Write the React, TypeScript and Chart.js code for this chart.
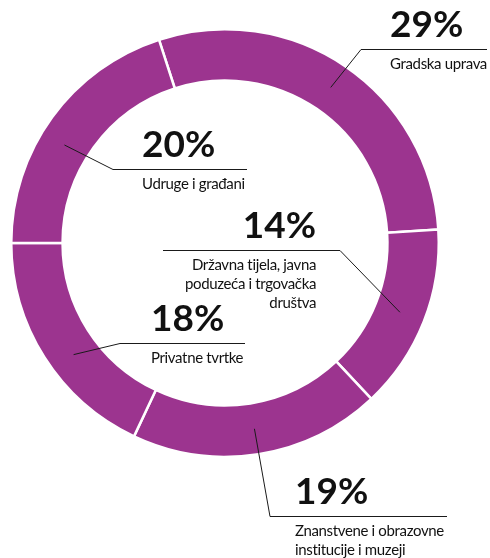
import React, { useEffect, useRef } from "react";
import { Chart, registerables } from "chart.js";

Chart.register(...registerables);

const categories = [
  "Gradska uprava",
  "Državna tijela, javna poduzeća i trgovačka društva",
  "Znanstvene i obrazovne institucije i muzeji",
  "Privatne tvrtke",
  "Udruge i građani",
];
const values = [29, 14, 19, 18, 20];
const labelLines = [
  ["Gradska uprava"],
  ["Državna tijela, javna", "poduzeća i trgovačka", "društva"],
  ["Znanstvene i obrazovne", "institucije i muzeji"],
  ["Privatne tvrtke"],
  ["Udruge i građani"],
];

// annotation placement (canvas pixels): elbow of leader, end of horizontal rule, text anchor
const labelLayout = [
  { elbowX: 361, elbowY: 49.5, endX: 487, textX: 390, align: "left", shift: 0 },
  { elbowX: 340, elbowY: 250.5, endX: 163, textX: 316, align: "right", shift: 0 },
  { elbowX: 270, elbowY: 516.5, endX: 447, textX: 295, align: "left", shift: 0 },
  { elbowX: 120, elbowY: 343.5, endX: 245, textX: 151, align: "left", shift: -4 },
  { elbowX: 113, elbowY: 169.5, endX: 247, textX: 142, align: "left", shift: -4.6 },
];

const PURPLE = "#9c348f";
const FONT = "Lato, 'Open Sans', sans-serif";

const calloutPlugin = {
  id: "callouts",
  afterDraw(chart: any) {
    const ctx = chart.ctx;
    const meta = chart.getDatasetMeta(0);
    ctx.save();
    meta.data.forEach((arc: any, i: number) => {
      const p = arc.getProps(["x", "y", "startAngle", "endAngle", "innerRadius", "outerRadius"], true);
      const L = labelLayout[i];
      const mid = (p.startAngle + p.endAngle) / 2 + (L.shift * Math.PI) / 180;
      const r = (p.innerRadius + p.outerRadius) / 2;
      const sx = p.x + Math.cos(mid) * r;
      const sy = p.y + Math.sin(mid) * r;
      ctx.beginPath();
      ctx.strokeStyle = "#1a1a1a";
      ctx.lineWidth = 1;
      ctx.moveTo(sx, sy);
      ctx.lineTo(L.elbowX, L.elbowY);
      ctx.lineTo(L.endX, L.elbowY);
      ctx.stroke();

      ctx.fillStyle = "#111";
      ctx.textAlign = L.align;
      ctx.textBaseline = "alphabetic";
      ctx.letterSpacing = "0px";
      ctx.font = `bold 37px ${FONT}`;
      ctx.fillText(`${values[i]}%`, L.textX, L.elbowY - 12.5);
      ctx.font = `15px ${FONT}`;
      ctx.letterSpacing = "-0.35px";
      labelLines[i].forEach((line, k) => {
        ctx.fillText(line, L.textX, L.elbowY + 19 + k * 19.3);
      });
      ctx.letterSpacing = "0px";
    });
    ctx.restore();
  },
};

export default function App() {
  const ref = useRef<HTMLCanvasElement | null>(null);
  useEffect(() => {
    if (!ref.current) return;
    const chart = new Chart(ref.current, {
      type: "doughnut",
      data: {
        labels: categories,
        datasets: [
          {
            data: values,
            backgroundColor: PURPLE,
            borderColor: "#ffffff",
            borderWidth: 2.5,
            hoverOffset: 0,
          },
        ],
      },
      options: {
        responsive: false,
        animation: false,
        rotation: -18,
        cutout: "76%",
        layout: { padding: { left: 10, top: 28, right: 50, bottom: 100 } },
        plugins: {
          legend: { display: false },
          tooltip: { enabled: false },
        },
      },
      plugins: [calloutPlugin],
    });
    return () => chart.destroy();
  }, []);
  return (
    <div style={{ position: "absolute", left: 0, top: 0, width: 490, height: 558, background: "#fff" }}>
      <canvas ref={ref} width={490} height={558} style={{ width: 490, height: 558 }} />
    </div>
  );
}
